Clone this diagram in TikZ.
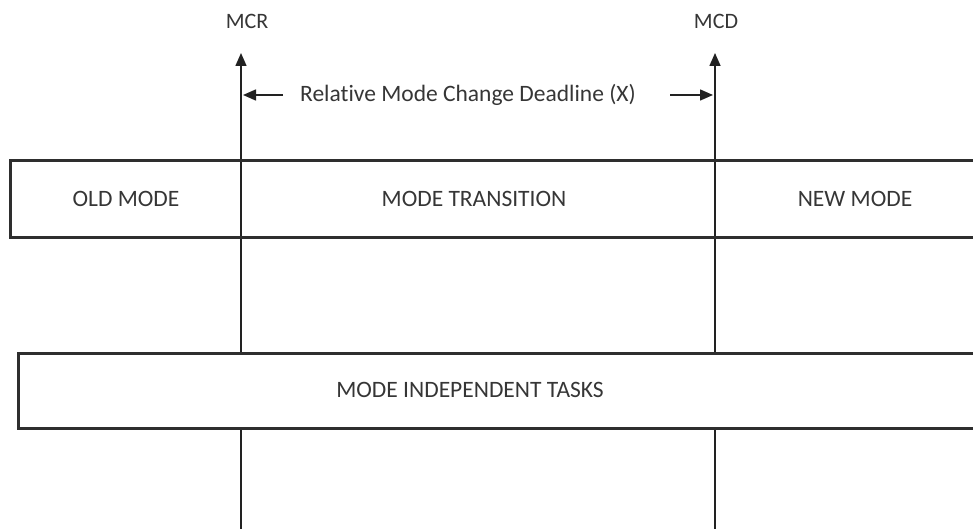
\documentclass[tikz,border=0pt]{standalone}
\usepackage{fontspec}
\setmainfont{Carlito}[Ligatures=NoCommon]
\usetikzlibrary{arrows.meta}
\definecolor{txt}{HTML}{363636}
\definecolor{boxc}{HTML}{2E2E2E}
\definecolor{linec}{HTML}{222222}
\begin{document}
\begin{tikzpicture}[x=1pt,y=-1pt,
  lbl/.style={text=txt, font=\fontsize{23.5}{27}\selectfont, inner sep=0pt},
  toplbl/.style={text=txt, font=\fontsize{22}{26}\selectfont, inner sep=0pt},
  bar/.style={draw=boxc, line width=3pt},
  tl/.style={draw=linec, line width=1.5pt},
  tip/.style={-{Triangle[length=13pt,width=11pt]}}]
\useasboundingbox (0,0) rectangle (973,529);
\clip (0,0) rectangle (973,529);
% time lines
\coordinate (mcrb) at (241,529);
\coordinate (mcrt) at (241,53);
\coordinate (mcdb) at (715,529);
\coordinate (mcdt) at (715,53);
\draw[tl,tip] (mcrb) -- (mcrt);
\draw[tl,tip] (mcdb) -- (mcdt);
\node[toplbl] (mcr) at (247,21) {MCR};
\node[toplbl] (mcd) at (716,21) {MCD};
% deadline label
\node[lbl] (dl) at (468,95) {Relative Mode Change Deadline (X)};
\coordinate (la) at (283,95);
\coordinate (lb) at (243,95);
\coordinate (ra) at (670,95);
\coordinate (rb) at (713,95);
\draw[tl,tip] (la) -- (lb);
\draw[tl,tip] (ra) -- (rb);
% mode bar
\draw[bar] (10,161) rectangle (990,237);
\node[lbl] (old) at (126,199) {OLD MODE};
\node[lbl] (trans) at (474,199) {MODE TRANSITION};
\node[lbl] (new) at (855,199) {NEW MODE};
% mode independent tasks
\filldraw[bar, fill=white] (18,353) rectangle (990,428);
\node[lbl] (mit) at (470,390) {MODE INDEPENDENT TASKS};
\end{tikzpicture}
\end{document}
